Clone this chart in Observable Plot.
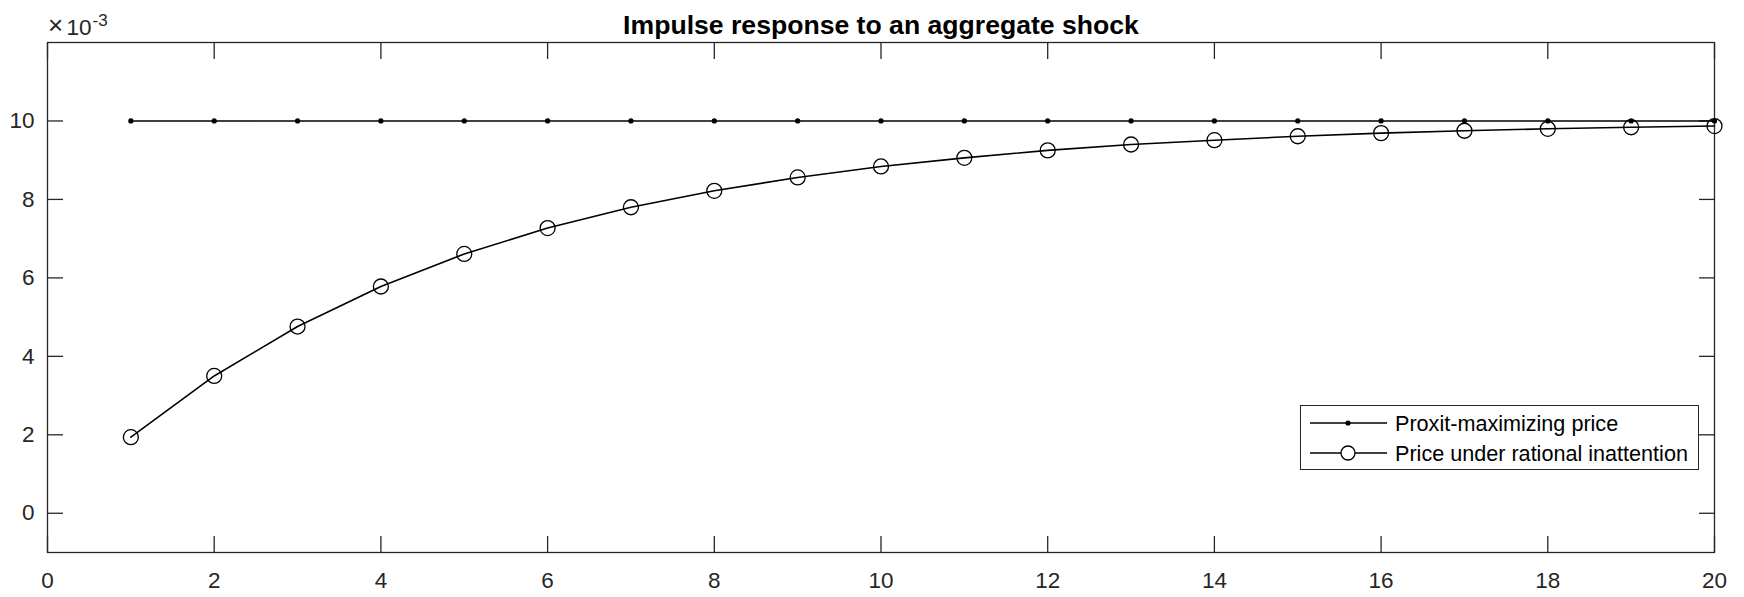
<!DOCTYPE html>
<html>
<head>
<meta charset="utf-8">
<script src="https://cdn.jsdelivr.net/npm/d3@7"></script>
<script src="https://cdn.jsdelivr.net/npm/@observablehq/plot@0.6"></script>
<style>
html, body { margin: 0; padding: 0; background: #fff; }
#wrap { position: relative; width: 1744px; height: 597px; font-family: "Liberation Sans", Arial, sans-serif; }
#wrap svg { overflow: visible; }
#legend { position: absolute; left: 1300px; top: 405px; width: 397px; height: 63px; border: 1px solid #262626; background: #fff; }
</style>
</head>
<body>
<div id="wrap"></div>
<script>
// Values are in units of 10^-3 (as displayed on the y axis)
const periods = [1, 2, 3, 4, 5, 6, 7, 8, 9, 10, 11, 12, 13, 14, 15, 16, 17, 18, 19, 20];
const proxitPrice = [10, 10, 10, 10, 10, 10, 10, 10, 10, 10, 10, 10, 10, 10, 10, 10, 10, 10, 10, 10];
const inattentionPrice = [1.94, 3.50, 4.76, 5.78, 6.61, 7.27, 7.80, 8.22, 8.56, 8.84, 9.06, 9.25, 9.40, 9.51, 9.61, 9.69, 9.75, 9.80, 9.84, 9.87];
const xTicks = [0, 2, 4, 6, 8, 10, 12, 14, 16, 18, 20];
const yTicks = [0, 2, 4, 6, 8, 10];
const seriesNames = ["Proxit-maximizing price", "Price under rational inattention"];
const titleText = "Impulse response to an aggregate shock";
const exponentTimes = "×";
const exponentBase = "10";
const exponentPower = "-3";

const proxitData = periods.map((t, i) => ({t, v: proxitPrice[i]}));
const inattentionData = periods.map((t, i) => ({t, v: inattentionPrice[i]}));

const axisColor = "#262626";
const font = "Liberation Sans, Arial, sans-serif";

const chart = Plot.plot({
  width: 1744,
  height: 597,
  marginLeft: 47,
  marginRight: 30,
  marginTop: 42,
  marginBottom: 45,
  style: {fontFamily: font, fontSize: "22px", color: axisColor, background: "#fff", overflow: "visible"},
  x: {domain: [0, 20]},
  y: {domain: [-1, 12]},
  marks: [
    Plot.frame({stroke: axisColor, strokeWidth: 1.3}),
    Plot.axisX(xTicks, {anchor: "bottom", tickSize: -16, tickPadding: 36, label: null, fontSize: 22.5, strokeWidth: 1.3}),
    Plot.axisX(xTicks, {anchor: "top", tickSize: -16, tickFormat: () => "", label: null, strokeWidth: 1.3}),
    Plot.axisY(yTicks, {anchor: "left", tickSize: -16, tickPadding: 29, label: null, fontSize: 22.5, strokeWidth: 1.3}),
    Plot.axisY(yTicks, {anchor: "right", tickSize: -16, tickFormat: () => "", label: null, strokeWidth: 1.3}),
    Plot.line(proxitData, {x: "t", y: "v", stroke: "#000", strokeWidth: 1.6}),
    Plot.dot(proxitData, {x: "t", y: "v", r: 2.6, fill: "#000", stroke: "none"}),
    Plot.line(inattentionData, {x: "t", y: "v", stroke: "#000", strokeWidth: 1.6}),
    Plot.dot(inattentionData, {x: "t", y: "v", r: 7.5, fill: "none", stroke: "#000", strokeWidth: 1.3}),
    Plot.text([titleText], {frameAnchor: "top", lineAnchor: "bottom", dy: -9, fontWeight: "bold", fontSize: 26.6, fill: "#000"}),
    Plot.text([exponentTimes], {frameAnchor: "top-left", textAnchor: "middle", lineAnchor: "bottom", dx: 8, dy: -9, fontSize: 26, fill: axisColor}),
    Plot.text([exponentBase], {frameAnchor: "top-left", textAnchor: "start", lineAnchor: "bottom", dx: 19, dy: -8, fontSize: 22.5, fill: axisColor}),
    Plot.text([exponentPower], {frameAnchor: "top-left", textAnchor: "start", lineAnchor: "bottom", dx: 45, dy: -17, fontSize: 17, fill: axisColor})
  ]
});
document.getElementById("wrap").appendChild(chart);

// Legend
const legend = document.createElement("div");
legend.id = "legend";
const NS = "http://www.w3.org/2000/svg";
const lsvg = document.createElementNS(NS, "svg");
lsvg.setAttribute("width", 397);
lsvg.setAttribute("height", 63);
lsvg.style.display = "block";
const rowY = [17, 47];
seriesNames.forEach((name, i) => {
  const y = rowY[i];
  const ln = document.createElementNS(NS, "line");
  ln.setAttribute("x1", 9); ln.setAttribute("x2", 86);
  ln.setAttribute("y1", y); ln.setAttribute("y2", y);
  ln.setAttribute("stroke", "#000"); ln.setAttribute("stroke-width", 1.6);
  lsvg.appendChild(ln);
  const c = document.createElementNS(NS, "circle");
  c.setAttribute("cx", 47); c.setAttribute("cy", y);
  if (i === 0) { c.setAttribute("r", 2.6); c.setAttribute("fill", "#000"); }
  else { c.setAttribute("r", 7); c.setAttribute("fill", "#fff"); c.setAttribute("stroke", "#000"); c.setAttribute("stroke-width", 1.3); }
  lsvg.appendChild(c);
  const tx = document.createElementNS(NS, "text");
  tx.setAttribute("x", 94); tx.setAttribute("y", y + 8);
  tx.setAttribute("font-family", font);
  tx.setAttribute("font-size", 21.6);
  tx.setAttribute("fill", "#000");
  tx.textContent = name;
  lsvg.appendChild(tx);
});
legend.appendChild(lsvg);
document.getElementById("wrap").appendChild(legend);
</script>
</body>
</html>
